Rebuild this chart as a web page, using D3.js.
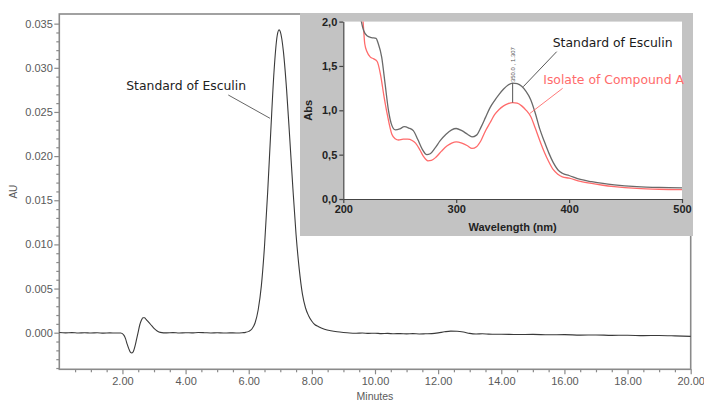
<!DOCTYPE html>
<html>
<head>
<meta charset="utf-8">
<script src="https://cdn.jsdelivr.net/npm/d3@7/dist/d3.min.js"></script>
<style>
  html, body { margin: 0; padding: 0; background: #fff; }
  svg { display: block; }
</style>
</head>
<body>
<svg id="chart" width="704" height="403"></svg>
<script>
// HPLC chromatogram (AU vs minutes)
const times = [0.0,0.2,0.4,0.6,0.8,1.0,1.2,1.4,1.6,1.8,1.95,2.05,2.1,2.15,2.2,2.25,2.3,2.35,2.4,2.45,2.5,2.55,2.6,2.65,2.7,2.75,2.8,2.9,3.0,3.1,3.2,3.4,3.6,3.8,4.0,4.2,4.4,4.6,4.8,5.0,5.2,5.4,5.6,5.8,5.9,6.0,6.1,6.2,6.3,6.4,6.5,6.6,6.7,6.8,6.9,6.96,7.0,7.1,7.2,7.3,7.4,7.5,7.6,7.7,7.8,7.9,8.0,8.1,8.2,8.4,8.6,8.8,9.0,9.2,9.4,9.6,9.8,10.0,10.2,10.4,10.6,10.8,11.0,11.2,11.4,11.6,11.8,12.0,12.2,12.4,12.6,12.8,13.0,13.2,13.4,13.6,13.8,14.0,14.5,15.0,15.5,16.0,16.5,17.0,17.5,18.0,18.5,19.0,19.5,20.0];
const absorbance = [0.00003,-0.00002,0.00001,-0.00003,0.00000,-0.00004,-0.00001,-0.00005,-0.00002,-0.00004,-0.00003,-0.0003,-0.0007,-0.0013,-0.0018,-0.0022,-0.0023,-0.0021,-0.0015,-0.0007,0.0001,0.0009,0.0014,0.0017,0.0017,0.0015,0.0013,0.0009,0.0005,0.0002,0.00004,-0.00002,0.00001,-0.00003,0.00000,-0.00002,0.00002,0.00000,-0.00003,-0.00001,-0.00004,-0.00002,-0.00003,0.00000,0.00004,0.00015,0.00042,0.0011,0.0026,0.0053,0.0098,0.0159,0.0229,0.0295,0.0336,0.0343,0.0341,0.0318,0.0275,0.0220,0.0163,0.0111,0.0072,0.0044,0.0028,0.0019,0.0013,0.0009,0.0007,0.0004,0.00022,0.00010,0.00002,-0.00004,-0.00006,-0.00003,-0.00008,-0.00006,-0.00010,-0.00008,-0.00012,-0.00010,-0.00013,-0.00011,-0.00014,-0.00012,-0.00010,-0.00002,0.00010,0.00018,0.00017,0.00008,-0.00008,-0.00014,-0.00012,-0.00016,-0.00018,-0.00017,-0.00021,-0.00019,-0.00024,-0.00022,-0.00027,-0.00026,-0.00030,-0.00029,-0.00033,-0.00032,-0.00036,-0.00042];

const xMajorTicks = [2,4,6,8,10,12,14,16,18,20];
const xMinorTicks = [0.5,1,1.5,2.5,3,3.5,4.5,5,5.5,6.5,7,7.5,8.5,9,9.5,10.5,11,11.5,12.5,13,13.5,14.5,15,15.5,16.5,17,17.5,18.5,19,19.5];
const yMajorTicks = [0,0.005,0.010,0.015,0.020,0.025,0.030,0.035];
const yMinorTicks = [-0.004,-0.003,-0.002,-0.001,0.001,0.002,0.003,0.004,0.006,0.007,0.008,0.009,0.011,0.012,0.013,0.014,0.016,0.017,0.018,0.019,0.021,0.022,0.023,0.024,0.026,0.027,0.028,0.029,0.031,0.032,0.033,0.034];

// UV spectra (Abs vs wavelength)
const wlStandard = [213,216,218,221,225,229,231,234,237,240,243,246,250,254,258,262,266,270,274,277,281,286,291,296,300,305,310,314,318,322,326,330,334,338,342,346,350,354,358,362,366,370,374,378,382,386,390,394,400,410,420,430,440,460,480,500];
const absStandard = [2.25,2.00,1.90,1.84,1.82,1.81,1.75,1.60,1.30,1.00,0.83,0.78,0.79,0.815,0.80,0.77,0.67,0.56,0.50,0.51,0.57,0.66,0.73,0.78,0.795,0.77,0.73,0.70,0.72,0.81,0.92,1.03,1.11,1.18,1.24,1.285,1.307,1.30,1.27,1.21,1.12,0.97,0.79,0.65,0.52,0.41,0.33,0.29,0.265,0.22,0.195,0.175,0.16,0.14,0.13,0.125];
const wlIsolate = [214,217.5,219,221,224,227,230,233,236,239,243,246,249,253,257,261,264,268,271,275,278,282,287,292,296,300,305,310,314,318,322,326,330,334,338,342,346,350,354,358,362,366,370,374,378,382,386,390,394,400,410,420,430,440,460,480,500];
const absIsolate = [2.25,2.00,1.75,1.66,1.60,1.58,1.55,1.40,1.16,0.95,0.73,0.68,0.665,0.675,0.675,0.66,0.63,0.55,0.48,0.43,0.435,0.47,0.54,0.60,0.63,0.645,0.63,0.60,0.57,0.59,0.66,0.77,0.86,0.95,1.01,1.05,1.075,1.087,1.08,1.05,1.00,0.93,0.80,0.66,0.53,0.42,0.33,0.28,0.25,0.235,0.20,0.175,0.155,0.14,0.12,0.11,0.105];

const specXTicks = [200,300,400,500];
const specYTicks = [0,0.5,1.0,1.5,2.0];
const specYLabels = ["0,0","0,5","1,0","1,5","2,0"];

const peakWavelength = 350.0;
const peakStandard = 1.307;
const peakIsolate = 1.087;

const svg = d3.select("#chart");

// ---------- main chromatogram ----------
const x = d3.scaleLinear().domain([0, 20]).range([59.3, 690.7]);
const y = d3.scaleLinear().domain([-0.004145, 0.036093]).range([369.3, 14]);

const axisColor = "#8a8a8a";
const labelColor = "#5a5a5a";
const fontMain = "'Liberation Sans', Arial, sans-serif";

function styleAxis(g) {
  g.select(".domain").remove();
  g.selectAll(".tick line").attr("stroke", axisColor).attr("stroke-width", 1.2);
  g.selectAll(".tick text").attr("fill", labelColor).style("font-family", fontMain).style("font-size", "11px");
}

// frame (left, top, right, bottom)
svg.append("rect")
  .attr("x", x(0)).attr("y", y(0.036093))
  .attr("width", x(20) - x(0)).attr("height", y(-0.004145) - y(0.036093))
  .attr("fill", "none").attr("stroke", axisColor).attr("stroke-width", 1.6);

svg.append("g").attr("transform", `translate(0,${y(-0.004145)})`)
  .call(d3.axisBottom(x).tickValues(xMinorTicks).tickSize(3).tickFormat(""))
  .call(styleAxis);
svg.append("g").attr("transform", `translate(0,${y(-0.004145)})`)
  .call(d3.axisBottom(x).tickValues(xMajorTicks).tickSize(5).tickPadding(3).tickFormat(d3.format(".2f")))
  .call(styleAxis);

svg.append("g").attr("transform", `translate(${x(0)},0)`)
  .call(d3.axisLeft(y).tickValues(yMinorTicks).tickSize(3).tickFormat(""))
  .call(styleAxis);
svg.append("g").attr("transform", `translate(${x(0)},0)`)
  .call(d3.axisLeft(y).tickValues(yMajorTicks).tickSize(5).tickPadding(1.5).tickFormat(d3.format(".3f")))
  .call(styleAxis);

svg.append("text")
  .attr("x", (x(0) + x(20)) / 2).attr("y", 400)
  .attr("text-anchor", "middle")
  .attr("fill", labelColor).style("font-family", fontMain).style("font-size", "10.5px")
  .text("Minutes");

svg.append("text")
  .attr("transform", `translate(17,${(y(-0.004145) + y(0.036093)) / 2}) rotate(-90)`)
  .attr("text-anchor", "middle")
  .attr("fill", labelColor).style("font-family", fontMain).style("font-size", "10px")
  .text("AU");

const chromo = times.map((t, i) => [t, absorbance[i]]);
svg.append("path")
  .datum(chromo)
  .attr("fill", "none").attr("stroke", "#3a3a3a").attr("stroke-width", 1.1)
  .attr("d", d3.line().x(d => x(d[0])).y(d => y(d[1])).curve(d3.curveMonotoneX));

// peak annotation
svg.append("line")
  .attr("x1", x(5.353)).attr("y1", y(0.02692))
  .attr("x2", x(6.674)).attr("y2", y(0.02428))
  .attr("stroke", "#555").attr("stroke-width", 0.9);
svg.append("text")
  .attr("x", x(2.12)).attr("y", y(0.02752))
  .attr("fill", "#222").style("font-family", "'DejaVu Sans', Verdana, sans-serif").style("font-size", "12.4px")
  .text("Standard of Esculin");

// ---------- inset UV spectrum ----------
svg.append("rect")
  .attr("x", 300).attr("y", 13).attr("width", 393).attr("height", 223)
  .attr("fill", "#c3c3c3");

const sx = d3.scaleLinear().domain([200, 500]).range([343.3, 682]);
const sy = d3.scaleLinear().domain([0, 2]).range([199, 21.6]);

svg.append("rect")
  .attr("x", sx(200)).attr("y", sy(2)).attr("width", sx(500) - sx(200)).attr("height", sy(0) - sy(2))
  .attr("fill", "#fff");

const fontInset = "'Liberation Sans', Arial, sans-serif";
function styleInsetAxis(g) {
  g.select(".domain").attr("stroke", "#444").attr("stroke-width", 1.2);
  g.selectAll(".tick line").attr("stroke", "#444").attr("stroke-width", 1.2);
  g.selectAll(".tick text").attr("fill", "#222").style("font-family", fontInset)
    .style("font-size", "11px").style("font-weight", "bold");
}

svg.append("g").attr("transform", `translate(0,${sy(0)})`)
  .call(d3.axisBottom(sx).tickValues(specXTicks).tickSize(4).tickSizeOuter(0).tickPadding(2).tickFormat(d3.format("d")))
  .call(styleInsetAxis);
svg.append("g").attr("transform", `translate(${sx(200)},0)`)
  .call(d3.axisLeft(sy).tickValues(specYTicks).tickSize(4).tickSizeOuter(0).tickPadding(2)
    .tickFormat((d, i) => specYLabels[i]))
  .call(styleInsetAxis);

svg.append("text")
  .attr("x", (sx(200) + sx(500)) / 2).attr("y", 231)
  .attr("text-anchor", "middle")
  .attr("fill", "#222").style("font-family", fontInset).style("font-size", "11px").style("font-weight", "bold")
  .text("Wavelength (nm)");
svg.append("text")
  .attr("transform", `translate(312,${(sy(0) + sy(2)) / 2}) rotate(-90)`)
  .attr("text-anchor", "middle")
  .attr("fill", "#222").style("font-family", fontInset).style("font-size", "11px").style("font-weight", "bold")
  .text("Abs");

svg.append("clipPath").attr("id", "specClip")
  .append("rect")
  .attr("x", sx(200)).attr("y", sy(2)).attr("width", sx(500) - sx(200)).attr("height", sy(0) - sy(2));

const specLine = d3.line().x(d => sx(d[0])).y(d => sy(d[1])).curve(d3.curveMonotoneX);
const specG = svg.append("g").attr("clip-path", "url(#specClip)");

specG.append("path")
  .datum(wlIsolate.map((w, i) => [w, absIsolate[i]]))
  .attr("fill", "none").attr("stroke", "#ff6b6b").attr("stroke-width", 1.3)
  .attr("d", specLine);
specG.append("path")
  .datum(wlStandard.map((w, i) => [w, absStandard[i]]))
  .attr("fill", "none").attr("stroke", "#6a6a6a").attr("stroke-width", 1.3)
  .attr("d", specLine);

// λmax marker
svg.append("line")
  .attr("x1", sx(peakWavelength)).attr("x2", sx(peakWavelength))
  .attr("y1", sy(peakIsolate)).attr("y2", sy(peakStandard))
  .attr("stroke", "#555").attr("stroke-width", 1);
svg.append("text")
  .attr("transform", `translate(${sx(peakWavelength) + 2},${sy(peakStandard) - 1}) rotate(-90)`)
  .attr("fill", "#555").style("font-family", fontInset).style("font-size", "6px")
  .text(`${peakWavelength.toFixed(1)} , ${peakStandard.toFixed(3)}`);

// series labels
const labelFont = "'DejaVu Sans', Verdana, sans-serif";
svg.append("line")
  .attr("x1", sx(389.0)).attr("y1", sy(1.661)).attr("x2", sx(359.4)).attr("y2", sy(1.266))
  .attr("stroke", "#444").attr("stroke-width", 0.9);
svg.append("text")
  .attr("x", sx(385.5)).attr("y", sy(1.714))
  .attr("fill", "#1a1a1a").style("font-family", labelFont).style("font-size", "12.4px")
  .text("Standard of Esculin");

svg.append("line")
  .attr("x1", sx(394.3)).attr("y1", sy(1.248)).attr("x2", sx(365.4)).attr("y2", sy(0.966))
  .attr("stroke", "#ff6b6b").attr("stroke-width", 0.9);
svg.append("text")
  .attr("x", sx(377.1)).attr("y", sy(1.297))
  .attr("fill", "#ff6b6b").style("font-family", labelFont).style("font-size", "12.4px")
  .text("Isolate of Compound A");
</script>
</body>
</html>
